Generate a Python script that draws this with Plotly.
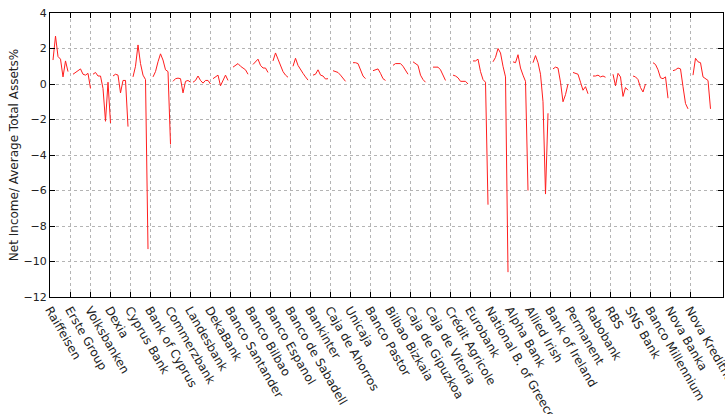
import plotly.graph_objects as go

banks = ["Raiffeisen", "Erste Group", "Volksbanken", "Dexia", "Cyprus Bank", "Bank of Cyprus",
         "Commerzbank", "Landesbank", "DekaBank", "Banco Santander", "Banco Bilbao", "Banco Espanol",
         "Banco de Sabadell", "Bankinter", "Caja de Ahorros", "Unicaja", "Banco Pastor", "Bilbao Bizkaia",
         "Caja de Gipuzkoa", "Caja de Vitoria", "Crédit Agricole", "Eurobank", "National B. of Greece",
         "Alpha Bank", "Allied Irish", "Bank of Ireland", "Permanent", "Rabobank", "RBS", "SNS Bank",
         "Banco Millennium", "Nova Banka", "Nova Kreditna"]

raiffeisen = [1.35, 2.7, 1.55, 1.4, 0.4, 1.3, 0.7]
erste = [0.55, 0.65, 0.75, 0.85, 0.55, 0.5, 0.6, -0.25]
volksbanken = [0.55, 0.65, 0.45, 0.45, -0.25, -2.1, 0.1, -2.2]
dexia = [0.45, 0.55, 0.5, -0.5, 0.2, 0.2, -2.4]
cyprus_bank = [0.4, 1.0, 2.2, 1.15, 0.5, 0.25, -9.3]
bank_of_cyprus = [0.4, 0.7, 1.25, 1.7, 1.35, 0.8, 0.7, -3.4]
commerzbank = [0.15, 0.3, 0.33, 0.3, -0.5, 0.15, 0.2, 0.1]
landesbank = [0.1, 0.2, 0.45, 0.2, 0.05, 0.2, 0.2, 0.0]
dekabank = [0.3, 0.4, 0.5, -0.1, 0.2, 0.5, 0.2]
santander = [0.95, 1.05, 1.15, 1.0, 0.9, 0.8, 0.55]
bilbao = [1.1, 1.25, 1.4, 1.05, 0.9, 0.9, 0.65]
espanol = [1.3, 1.75, 1.4, 1.05, 0.7, 0.5, 0.38]
sabadell = [1.0, 1.45, 1.05, 0.8, 0.6, 0.4, 0.22]
bankinter = [0.5, 0.55, 0.8, 0.5, 0.45, 0.28, 0.3]
caja_ahorros = [0.75, 0.72, 0.65, 0.5, 0.3, 0.15]
unicaja = [1.2, 1.2, 1.15, 0.75, 0.45, 0.3]
pastor = [0.75, 0.8, 0.85, 0.6, 0.3, 0.2]
bizkaia = [1.05, 1.15, 1.15, 1.15, 1.0, 0.8, 0.55]
gipuzkoa = [1.25, 1.15, 1.05, 0.5, 0.25, 0.1]
vitoria = [0.95, 0.95, 0.95, 0.8, 0.45, 0.2]
credit_agricole = [0.5, 0.45, 0.35, 0.15, 0.15, 0.15, 0.0]
eurobank = [1.3, 1.3, 1.4, 0.7, 0.25, 0.1, -6.8]
nbg = [1.25, 1.5, 2.0, 1.75, 1.0, 0.4, -10.6]
alpha = [1.25, 1.2, 1.65, 0.9, 0.5, 0.15, -6.0]
allied_irish = [1.2, 1.6, 1.2, 0.55, -1.0, -6.2, -1.65]
bank_ireland = [0.85, 0.95, 0.9, 0.1, -1.0, -0.6, 0.0]
permanent = [0.65, 0.6, 0.55, 0.1, -0.35, -0.15, -0.55]
rabobank = [0.45, 0.45, 0.5, 0.4, 0.45, 0.38]
rbs = [0.55, -0.1, 0.6, 0.4, -0.7, -0.2, -0.35]
sns = [0.45, 0.4, 0.25, -0.2, -0.45, 0.0]
millennium = [1.2, 1.1, 0.8, 0.35, 0.3, 0.4, -0.8]
nova_banka = [0.75, 0.8, 0.9, 0.85, -0.15, -1.1, -1.4]
nova_kreditna = [0.5, 1.45, 1.25, 1.2, 0.4, 0.3, 0.2, -1.4]

series = [raiffeisen, erste, volksbanken, dexia, cyprus_bank, bank_of_cyprus, commerzbank,
          landesbank, dekabank, santander, bilbao, espanol, sabadell, bankinter, caja_ahorros,
          unicaja, pastor, bizkaia, gipuzkoa, vitoria, credit_agricole, eurobank, nbg, alpha,
          allied_irish, bank_ireland, permanent, rabobank, rbs, sns, millennium, nova_banka,
          nova_kreditna]

xs, ys = [], []
for i, vals in enumerate(series):
    for j, v in enumerate(vals):
        xs.append(i + 0.15 + j * 0.125)
        ys.append(v)
    xs.append(None)
    ys.append(None)

fig = go.Figure()
fig.add_trace(go.Scatter(x=xs, y=ys, mode="lines",
                         line=dict(color="rgb(255,30,30)", width=1),
                         connectgaps=False, showlegend=False, hoverinfo="skip"))

fig.update_layout(
    width=725, height=414,
    margin=dict(l=50, r=2, t=13, b=117, autoexpand=False),
    paper_bgcolor="white", plot_bgcolor="white",
    font=dict(family="DejaVu Sans", size=11, color="black"),
)
fig.update_xaxes(
    range=[0, 33.65], automargin=False, ticklabeloverflow="allow",
    tickvals=list(range(len(banks))), ticktext=banks, tickangle=60,
    showgrid=True, gridcolor="#b4b4b4", griddash="dot", gridwidth=1,
    showline=True, linecolor="black", linewidth=1, mirror="ticks",
    ticks="inside", ticklen=5, tickcolor="black",
    zeroline=False, tickfont=dict(size=12, color="#222"),
)
fig.update_yaxes(
    range=[-12, 4], dtick=2, tick0=-12, automargin=False,
    showgrid=True, gridcolor="#b4b4b4", griddash="dot", gridwidth=1,
    showline=True, linecolor="black", linewidth=1, mirror="ticks",
    ticks="inside", ticklen=5, tickcolor="black",
    zeroline=False, tickfont=dict(size=11, color="#222"),
    title=dict(text="Net Income/ Average Total Assets%", font=dict(size=12, color="#222"), standoff=2),
)

fig.write_html("out.html", config={"displayModeBar": False, "staticPlot": True},
               post_script="document.body.style.margin='0';document.body.style.overflow='hidden';")
